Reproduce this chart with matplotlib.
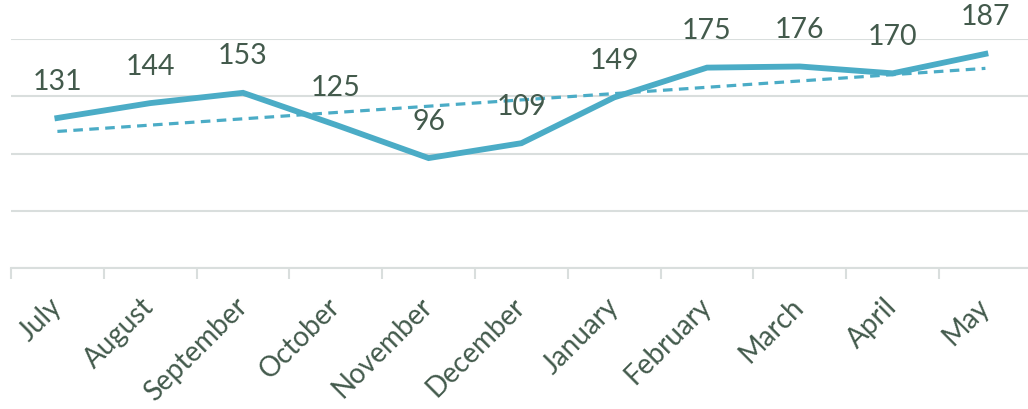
import matplotlib
matplotlib.use("Agg")
import matplotlib.pyplot as plt
import numpy as np

months = ["July", "August", "September", "October", "November", "December",
          "January", "February", "March", "April", "May"]
values = [131, 144, 153, 125, 96, 109, 149, 175, 176, 170, 187]

LINE = "#4BACC6"
TEXT = "#435A4C"
GRID = "#D9DEDD"

plt.rcParams['font.family'] = ['Lato', 'DejaVu Sans']

fig = plt.figure(figsize=(10.28, 4.10), dpi=100)
W, H = 1028, 410
left, right, top, bottom = 11, 1031.8, 40, 269
ax = fig.add_axes([left / W, 1 - bottom / H, (right - left) / W, (bottom - top) / H])

x = np.arange(len(months))
ax.plot(x, values, color=LINE, lw=4.2, solid_joinstyle='miter', zorder=3)
coef = np.polyfit(x, values, 1)
ax.plot(x, np.polyval(coef, x), color=LINE, lw=2.3, ls=(0, (3, 2)), zorder=2)

for xi, v in zip(x, values):
    ax.annotate(str(v), (xi, v), xytext=(0, 27), textcoords='offset points',
                ha='center', va='center', fontsize=20.5, color=TEXT, zorder=4)

ax.set_xlim(-0.5, 10.5)
ax.set_ylim(0, 200)
ax.set_yticks([0, 50, 100, 150, 200])
ax.yaxis.grid(True, color=GRID, lw=1.5)
ax.set_axisbelow(True)
ax.tick_params(axis='y', left=False, labelleft=False)
for s in ['top', 'right', 'left']:
    ax.spines[s].set_visible(False)
ax.spines['bottom'].set_color(GRID)
ax.spines['bottom'].set_linewidth(1.5)

ax.set_xticks(np.arange(-0.5, 10.5, 1.0), minor=False)
ax.set_xticklabels([])
ax.tick_params(axis='x', which='major', length=8, width=1.5, color=GRID, direction='out')
ax.set_xticks(x, minor=True)
ax.set_xticklabels(months, minor=True, rotation=45, ha='right', va='center',
                   rotation_mode='anchor', fontsize=20, color=TEXT)
ax.tick_params(axis='x', which='minor', length=0, pad=24)

fig.savefig("out.png", dpi=100)
